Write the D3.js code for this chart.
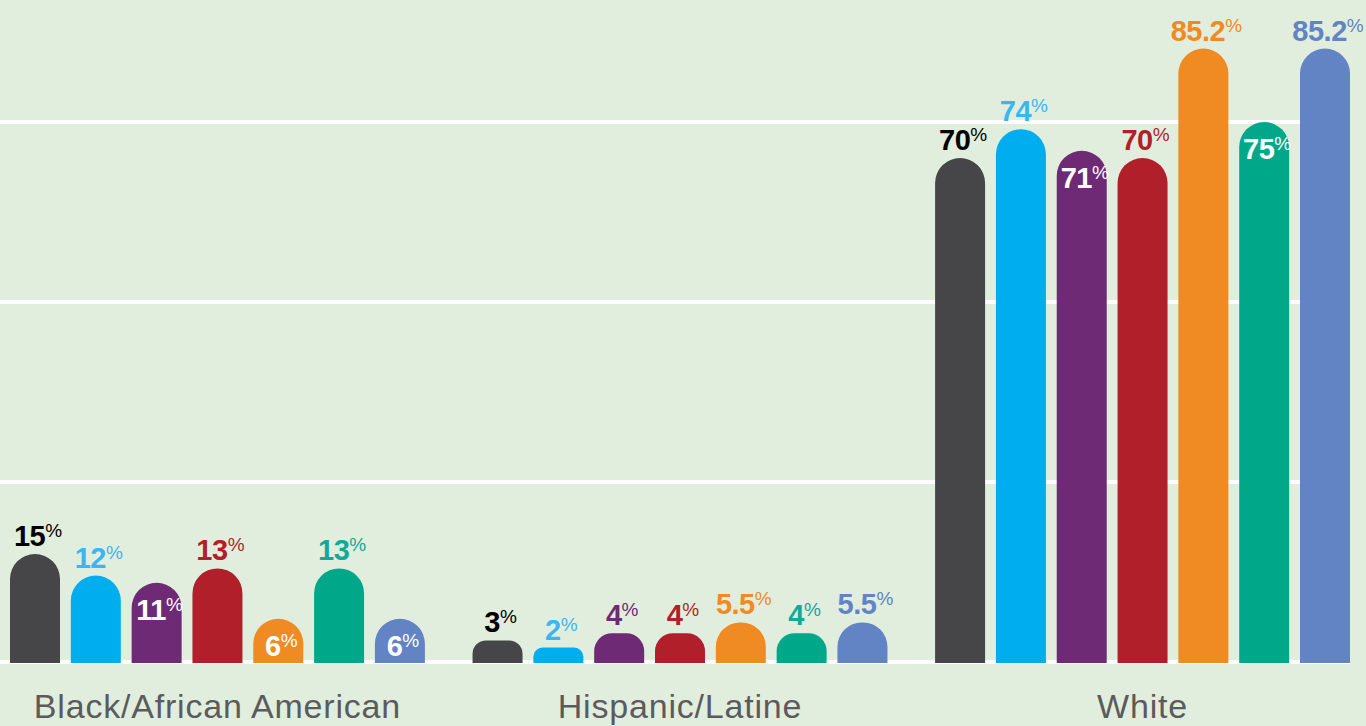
<!DOCTYPE html>
<html><head><meta charset="utf-8">
<script src="https://cdn.jsdelivr.net/npm/d3@7"></script>
<style>html,body{margin:0;padding:0;background:#e1eedd;overflow:hidden}</style>
</head><body><svg id="c" width="1366" height="726"></svg>
<script>
const categories = ["Black/African American", "Hispanic/Latine", "White"];
const series = ["Series 1", "Series 2", "Series 3", "Series 4", "Series 5", "Series 6", "Series 7"];
const blackValues    = [15, 12, 11, 13, 6, 13, 6];
const hispanicValues = [3, 2, 4, 4, 5.5, 4, 5.5];
const whiteValues    = [70, 74, 71, 70, 85.2, 75, 85.2];
const valueLabels = [
  ["15", "12", "11", "13", "6", "13", "6"],
  ["3", "2", "4", "4", "5.5", "4", "5.5"],
  ["70", "74", "71", "70", "85.2", "75", "85.2"]
];
const labelInside = [
  [false, false, true, false, true, false, true],
  [false, false, false, false, false, false, false],
  [false, false, true, false, false, true, false]
];
const gridValues = [0, 25, 50, 75];
const barColors = ["#464648", "#00aeef", "#6e2a75", "#b01f2a", "#f08a22", "#00a88a", "#6283c4"];
const labelColors = ["#000000", "#3cb6f2", "#6e2a75", "#b01f2a", "#f08a22", "#13a89a", "#6283c4"];

const valuesByGroup = [blackValues, hispanicValues, whiteValues];
const svg = d3.select("#c");
const y = d3.scaleLinear().domain([0, 75]).range([662, 122]);
const x0 = d3.scaleBand().domain(categories).range([10, 1350]).paddingInner(0.103).paddingOuter(0);
const x1 = d3.scaleBand().domain(series).range([0, x0.bandwidth()]).paddingInner(0.178).paddingOuter(0);

// gridlines
svg.append("g").selectAll("line").data(gridValues).join("line")
  .attr("x1", 0).attr("x2", 1350)
  .attr("y1", d => y(d)).attr("y2", d => y(d))
  .attr("stroke", "#ffffff").attr("stroke-width", 4);

function barPath(x, top, w, bottom) {
  const h = bottom - top;
  const r = Math.min(w / 2, h * 0.6);
  return `M${x},${bottom}V${top + r}A${r},${r} 0 0 1 ${x + r},${top}H${x + w - r}A${r},${r} 0 0 1 ${x + w},${top + r}V${bottom}Z`;
}

const data = [];
categories.forEach((c, gi) => {
  series.forEach((s, si) => {
    data.push({c, s, gi, si, v: valuesByGroup[gi][si], lab: valueLabels[gi][si], inside: labelInside[gi][si]});
  });
});

const g = svg.append("g");
g.selectAll("path").data(data).join("path")
  .attr("d", d => barPath(x0(d.c) + x1(d.s), y(d.v), x1.bandwidth(), y(0) + 1))
  .attr("fill", d => barColors[d.si]);

const t = g.selectAll("text.v").data(data).join("text").attr("class", "v")
  .attr("x", d => x0(d.c) + x1(d.s) + x1.bandwidth() / 2 + 3)
  .attr("y", d => d.inside ? y(d.v) + 37 : y(d.v) - 8)
  .attr("text-anchor", "middle")
  .attr("font-family", "Liberation Sans, Arial, sans-serif")
  .attr("font-weight", "bold")
  .attr("fill", d => d.inside ? "#ffffff" : labelColors[d.si]);
t.append("tspan").attr("font-size", 29).attr("letter-spacing", -0.5).text(d => d.lab);
t.append("tspan").attr("font-size", 19).attr("font-weight", "normal").attr("dy", -9).text("%");

svg.append("g").selectAll("text").data(categories).join("text")
  .attr("x", d => x0(d) + x0.bandwidth() / 2)
  .attr("y", 718)
  .attr("text-anchor", "middle")
  .attr("font-family", "Liberation Sans, Arial, sans-serif")
  .attr("font-size", 34)
  .attr("letter-spacing", 0.8)
  .attr("fill", "#5b5b5d")
  .text(d => d);
</script></body></html>
